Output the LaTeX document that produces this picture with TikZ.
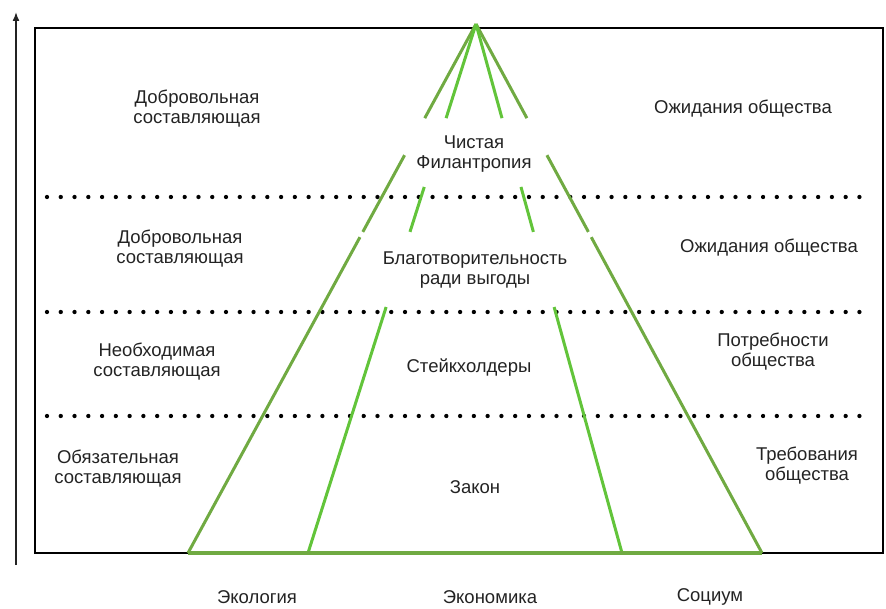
\documentclass[tikz,border=0pt]{standalone}
\usepackage{fontspec}
\setmainfont{Liberation Sans}
\usetikzlibrary{calc,arrows.meta}
\definecolor{outergreen}{RGB}{112,170,66}
\definecolor{innergreen}{RGB}{98,196,58}
\definecolor{txtgray}{RGB}{35,35,35}
\begin{document}
\begin{tikzpicture}[x=1pt,y=-1pt,
    lbl/.style={align=center,font=\fontsize{18.5}{20}\selectfont,text=txtgray,inner sep=0pt},
    outerline/.style={draw=outergreen,line width=3pt},
    innerline/.style={draw=innergreen,line width=3pt},
    dotline/.style={line width=4.3pt,line cap=round,dash pattern=on 0pt off 13.77pt}]
    \useasboundingbox (0,0) rectangle (886,609);

    % axis and frame
    \coordinate (axbot) at (16,565);
    \coordinate (axtop) at (16,12);
    \draw[-{Latex[length=9pt,width=7pt]},line width=1.5pt,draw=txtgray] (axbot) -- (axtop);
    \draw[line width=2.5pt] (35,28) rectangle (883,553);

    % levels
    \foreach \y in {197,312,416}
        \draw[dotline] (47,\y) -- (873,\y);

    % pyramid
    \coordinate (apex) at (476,24);
    \coordinate (bl) at (188,553);
    \coordinate (bil) at (308,553);
    \coordinate (bir) at (622,553);
    \coordinate (br) at (762,553);
    \foreach \s/\e in {0/.178,.248/.393,.403/1} {
        \draw[outerline] ($(apex)!\s!(bl)$) -- ($(apex)!\e!(bl)$);
        \draw[outerline] ($(apex)!\s!(br)$) -- ($(apex)!\e!(br)$);
    }
    \foreach \s/\e in {0/.178,.308/.393,.535/1} {
        \draw[innerline] ($(apex)!\s!(bil)$) -- ($(apex)!\e!(bil)$);
        \draw[innerline] ($(apex)!\s!(bir)$) -- ($(apex)!\e!(bir)$);
    }
    \draw[outerline,line width=4pt] (bl) -- (br);

    % left column
    \node[lbl] (vol1) at (197,109) {Добровольная\\составляющая};
    \node[lbl] (vol2) at (180,249) {Добровольная\\составляющая};
    \node[lbl] (need) at (157,362) {Необходимая\\составляющая};
    \node[lbl] (must) at (118,469) {Обязательная\\составляющая};

    % centre
    \node[lbl] (phil) at (474,154) {Чистая\\Филантропия};
    \node[lbl] (char) at (475,270) {Благотворительность\\ради выгоды};
    \node[lbl] (stake) at (469,368) {Стейкхолдеры};
    \node[lbl] (law) at (475,487) {Закон};

    % right column
    \node[lbl] (exp1) at (743,109) {Ожидания общества};
    \node[lbl] (exp2) at (769,248) {Ожидания общества};
    \node[lbl] (needs) at (773,352) {Потребности\\общества};
    \node[lbl] (req) at (807,466) {Требования\\общества};

    % bottom
    \node[lbl] (eco) at (257,597) {Экология};
    \node[lbl] (econ) at (490,597) {Экономика};
    \node[lbl] (soc) at (710,597) {Социум};
\end{tikzpicture}
\end{document}
